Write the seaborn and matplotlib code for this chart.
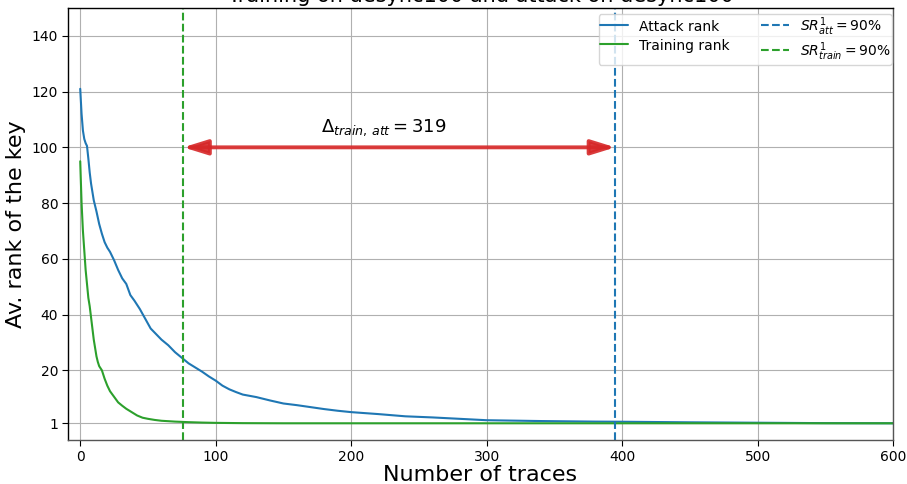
import matplotlib
matplotlib.use("Agg")
import matplotlib.pyplot as plt
import seaborn as sns
import pandas as pd

title = "Training on desync100 and attack on desync100"

att_x = [0, 1, 2, 3, 4, 5, 6, 7, 8, 9, 10, 12, 14, 16, 18, 20, 22, 25, 28, 31, 34, 37,
         40, 44, 48, 52, 56, 60, 65, 70, 75, 80, 85, 90, 95, 100, 105, 110, 115, 120,
         130, 140, 150, 160, 170, 180, 190, 200, 220, 240, 260, 280, 300, 320, 340,
         360, 380, 400, 450, 500, 550, 600]
att_y = [121, 112, 106, 103, 101.5, 100.5, 96, 91, 87, 84, 81, 77, 72.5, 69, 66, 64,
         62.5, 59.5, 56, 53, 51, 47, 45, 42, 38.5, 35, 33, 31, 29, 26.5, 24.5, 22.5,
         21, 19.5, 17.8, 16.3, 14.5, 13.2, 12.2, 11.3, 10.4, 9.2, 8.1, 7.5, 6.8, 6.1,
         5.5, 5.0, 4.3, 3.5, 3.1, 2.6, 2.1, 1.95, 1.8, 1.7, 1.6, 1.55, 1.35, 1.2, 1.05, 1.0]

train_x = [0, 1, 2, 3, 4, 5, 6, 7, 8, 9, 10, 11, 12, 13, 14, 16, 18, 20, 22, 25, 28,
           31, 34, 38, 42, 46, 50, 55, 60, 70, 80, 90, 100, 120, 150, 600]
train_y = [95, 80, 70, 63, 56, 51, 46, 43, 39, 35, 31, 28, 25, 23, 21.5, 20, 17, 14.5,
           12.5, 10.5, 8.5, 7.3, 6.2, 5.0, 3.8, 3.0, 2.6, 2.2, 1.9, 1.6, 1.4, 1.25,
           1.15, 1.05, 1.0, 1.0]

sr_train = 76
sr_att = 395
arrow_y = 100
yticks = [1, 20, 40, 60, 80, 100, 120, 140]
xticks = [0, 100, 200, 300, 400, 500, 600]

blue = "#1f77b4"
green = "#2ca02c"
red = "#d62728"

sns.set_style("whitegrid")
plt.rcParams["font.family"] = ["DejaVu Sans"]
plt.rcParams["text.color"] = "black"
plt.rcParams["axes.labelcolor"] = "black"
plt.rcParams["xtick.color"] = "black"
plt.rcParams["ytick.color"] = "black"

fig = plt.figure(figsize=(9.07, 4.84), dpi=100)
ax = fig.add_axes([0.075, 0.0909, 0.9096, 0.8926])

df_att = pd.DataFrame({"x": att_x, "y": att_y})
df_train = pd.DataFrame({"x": train_x, "y": train_y})

sns.lineplot(data=df_att, x="x", y="y", ax=ax, color=blue, lw=1.5, label="Attack rank")
sns.lineplot(data=df_train, x="x", y="y", ax=ax, color=green, lw=1.5, label="Training rank")
ax.axvline(sr_att, color=blue, ls="--", lw=1.5, label=r"$SR^1_{att}=90\%$")
ax.axvline(sr_train, color=green, ls="--", lw=1.5, label=r"$SR^1_{train}=90\%$")

ax.annotate("", xy=(sr_train, arrow_y), xytext=(sr_att, arrow_y),
            arrowprops=dict(arrowstyle="<|-|>,head_length=1.45,head_width=0.45",
                            color=red, lw=2.8, shrinkA=0, shrinkB=0, alpha=0.9))
ax.plot([sr_train + 16, sr_att - 16], [arrow_y, arrow_y], color="#f6c4c4", lw=0.8)
ax.text(224, 103.5, r"$\Delta_{train,\, att} = 319$", ha="center", va="bottom", fontsize=13)

ax.set_xlim(-9, 600)
ax.set_ylim(-5, 150)
ax.set_xticks(xticks)
ax.set_yticks(yticks)
ax.tick_params(axis="both", labelsize=10, length=4, color="black", direction="out",
               bottom=True, left=True, pad=3)
ax.grid(True, color="#b0b0b0", lw=0.8)
for s in ax.spines.values():
    s.set_color("black")
    s.set_linewidth(1.0)
ax.spines["bottom"].set_color("#555555")
ax.spines["right"].set_color("#555555")

ax.set_xlabel("Number of traces", fontsize=16, labelpad=1)
ax.set_ylabel("Av. rank of the key", fontsize=16, labelpad=4)
ax.text(0.5, 1.014, title, transform=ax.transAxes, ha="center", va="baseline",
        fontsize=15, clip_on=False)

h, l = ax.get_legend_handles_labels()
ax.legend(h, l, loc="upper right", ncol=2, fontsize=10, framealpha=0.8,
          bbox_to_anchor=(0.999, 0.985), borderaxespad=0.0, borderpad=0.1,
          labelspacing=0.15, handleheight=1.5, columnspacing=2.3)

fig.savefig("out.png", dpi=100)
